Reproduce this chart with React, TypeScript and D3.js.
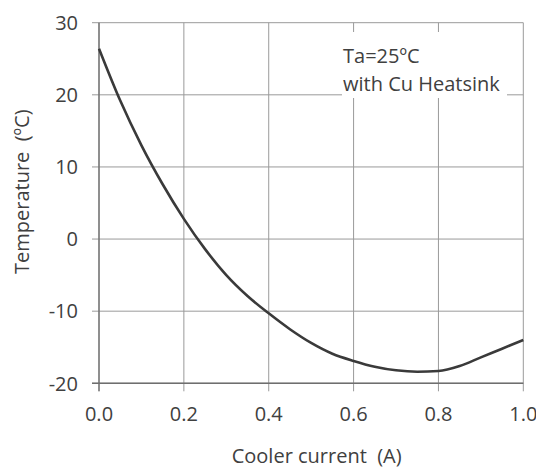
// App.tsx
import React from 'react';
import * as d3 from 'd3';

// cooler current (A) and cold-side temperature (°C)
const currents = [0, 0.05, 0.1, 0.15, 0.2, 0.25, 0.3, 0.35, 0.4, 0.45, 0.5, 0.55, 0.6, 0.65, 0.7, 0.75, 0.8, 0.85, 0.9, 0.95, 1.0];
const temps = [26.4, 19.2, 13.0, 7.6, 2.8, -1.4, -5.0, -7.9, -10.3, -12.5, -14.4, -15.9, -16.9, -17.7, -18.2, -18.4, -18.3, -17.6, -16.4, -15.2, -14.0];

const xTicks = [0, 0.2, 0.4, 0.6, 0.8, 1.0];
const yTicks = [-20, -10, 0, 10, 20, 30];

const noteLines = ['Ta=25ºC', 'with Cu Heatsink'];
const xTitle = 'Cooler current  (A)';
const yTitle = 'Temperature  (ºC)';

const W = 536;
const H = 469;
const margin = { top: 22.7, right: 12.7, bottom: 85.7, left: 99 };
const font = '"Open Sans", sans-serif';
const textColor = '#404040';

const App = () => {
    const x = d3.scaleLinear().domain([0, 1]).range([margin.left, W - margin.right]);
    const y = d3.scaleLinear().domain([-20, 30]).range([H - margin.bottom, margin.top]);

    const points: [number, number][] = currents.map((c, i) => [c, temps[i]]);
    const line = d3
        .line<[number, number]>()
        .x((d) => x(d[0]))
        .y((d) => y(d[1]))
        .curve(d3.curveMonotoneX);

    const [x0, x1] = x.range();
    const [y0, y1] = y.range();

    return (
        <svg width={W} height={H} style={{ position: 'absolute', left: 0, top: 0, background: '#fff' }}>
            {/* grid */}
            {yTicks.map((t) => (
                <line key={'gy' + t} x1={x0 - 7} x2={x1} y1={y(t)} y2={y(t)} stroke="#9a9a9a" strokeWidth={1} />
            ))}
            {xTicks.map((t) => (
                <line key={'gx' + t} x1={x(t)} x2={x(t)} y1={y1} y2={y0 + 8} stroke="#9a9a9a" strokeWidth={1} />
            ))}
            {/* axis lines */}
            <line x1={x0} x2={x0} y1={y1} y2={y0 + 8} stroke="#6e6e6e" strokeWidth={1.3} />
            <line x1={x0 - 7} x2={x1} y1={y0} y2={y0} stroke="#6e6e6e" strokeWidth={1.6} />

            {/* annotation box */}
            <rect x={342} y={32} width={165} height={66} fill="#fff" />
            {noteLines.map((s, i) => (
                <text key={s} x={343} y={63.3 + i * 27.4} fontFamily={font} fontSize={20} fill={textColor}>
                    {s}
                </text>
            ))}

            {/* curve */}
            <path d={line(points) || ''} fill="none" stroke="#3a3a3a" strokeWidth={2.6} strokeLinejoin="round" />

            {/* tick labels */}
            {yTicks.map((t) => (
                <text key={'ly' + t} x={78} y={y(t) + 7.3} textAnchor="end" fontFamily={font} fontSize={20} fill={textColor}>
                    {t}
                </text>
            ))}
            {xTicks.map((t) => (
                <text key={'lx' + t} x={x(t)} y={420.7} textAnchor="middle" fontFamily={font} fontSize={20} fill={textColor}>
                    {d3.format('.1f')(t)}
                </text>
            ))}

            {/* axis titles */}
            <text x={316.7} y={463.3} textAnchor="middle" fontFamily={font} fontSize={20} fill={textColor} style={{ whiteSpace: 'pre' }}>
                {xTitle}
            </text>
            <text
                transform={`translate(28.5, 191.7) rotate(-90)`}
                textAnchor="middle"
                fontFamily={font}
                fontSize={20}
                fill={textColor}
                style={{ whiteSpace: 'pre' }}
            >
                {yTitle}
            </text>
        </svg>
    );
};

export default App;
